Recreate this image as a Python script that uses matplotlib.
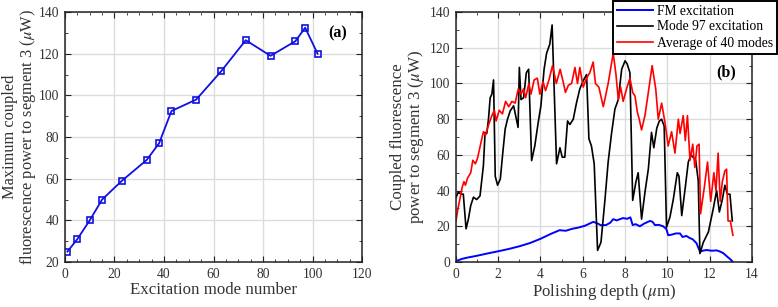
import matplotlib
matplotlib.use("Agg")
import matplotlib.pyplot as plt
from matplotlib.ticker import MultipleLocator

plt.rcParams["font.family"] = ["Liberation Serif", "DejaVu Serif"]
plt.rcParams["mathtext.fontset"] = "stix"

# (a) maximum coupled power vs excitation mode number
mode_number = [1, 5, 10, 15, 23, 33, 38, 43, 53, 63, 73, 83, 93, 97, 102]
max_power = [25, 31, 40, 50, 59, 69, 77, 92.5, 98, 111.5, 126.5, 119, 126, 132.5, 120]

# (b) coupled power vs polishing depth
fm_depth = [0.0, 0.3, 0.6, 1.0, 1.5, 2.0, 2.5, 3.0, 3.5, 4.0, 4.5, 4.9, 5.2, 5.5,
            5.8, 6.1, 6.5, 6.7, 6.85, 7.1, 7.3, 7.44, 7.6, 7.9, 8.1, 8.25, 8.36,
            8.5, 8.7, 8.9, 9.18, 9.3, 9.41, 9.6, 9.8, 9.95, 10.04, 10.2, 10.4,
            10.6, 10.72, 10.9, 11.05, 11.2, 11.38, 11.54, 11.7, 11.86, 12.1,
            12.33, 12.5, 12.65, 12.8, 12.95, 13.09]
fm_power = [0.5, 1.8, 2.6, 3.5, 4.8, 6.0, 7.3, 8.8, 10.6, 13.0, 15.8, 17.8, 17.5,
            18.6, 19.3, 20.3, 22.5, 21.6, 20.6, 20.7, 22.0, 24.0, 23.3, 24.6, 24.2,
            25.0, 20.7, 21.2, 20.0, 21.5, 23.0, 22.5, 20.7, 20.8, 20.0, 18.5, 15.0,
            15.3, 16.0, 16.0, 14.0, 14.6, 13.5, 12.7, 10.5, 5.8, 6.4, 6.7, 6.3,
            6.5, 5.8, 4.9, 3.3, 1.8, 0.2]

m97_depth = [0.0, 0.11, 0.27, 0.35, 0.48, 0.59, 0.7, 0.83, 0.98, 1.14, 1.3, 1.38,
             1.46, 1.54, 1.62, 1.7, 1.78, 1.86, 1.97, 2.1, 2.22, 2.33, 2.44, 2.57,
             2.73, 2.94, 3.0, 3.08, 3.2, 3.33, 3.44, 3.58, 3.73, 3.89, 4.02, 4.17,
             4.29, 4.44, 4.55, 4.76, 4.92, 5.03, 5.15, 5.28, 5.39, 5.55, 5.7, 5.86,
             6.02, 6.18, 6.29, 6.41, 6.54, 6.7, 6.86, 7.05, 7.2, 7.36, 7.52, 7.68,
             7.84, 8.0, 8.1, 8.23, 8.36, 8.51, 8.62, 8.78, 8.94, 9.1, 9.25, 9.36,
             9.5, 9.62, 9.73, 9.85, 9.96, 10.12, 10.28, 10.47, 10.55, 10.68, 10.85,
             10.99, 11.12, 11.34, 11.46, 11.54, 11.7, 11.94, 12.17, 12.33, 12.46,
             12.6, 12.72, 12.84, 12.96, 13.07]
m97_power = [36, 39, 38, 38, 18.6, 24, 31.6, 36.3, 35, 37, 54, 72.6, 72, 80, 92,
             94, 102, 48, 43, 46.5, 61.5, 74.5, 80, 84.7, 87.5, 75.4, 109, 91, 92,
             106, 108, 56.8, 65, 78, 87.5, 108, 117, 122, 132.8, 55, 64, 58.7, 58.7,
             79, 77, 80, 89, 97, 101.5, 105, 69, 65, 55, 6.5, 11, 35, 56, 72, 85.7,
             91, 108, 112.7, 111, 106, 34.5, 44.7, 50, 24, 39, 52, 72.6, 64, 75,
             79, 80, 76, 19.5, 25, 35, 50, 48, 26, 42, 56, 60, 57, 45.6, 4.7, 11,
             16.8, 29.8, 40, 28, 35, 43, 38, 38, 23]

avg_depth = [0.0, 0.1, 0.2, 0.3, 0.38, 0.45, 0.55, 0.7, 0.8, 0.92, 1.02, 1.15,
             1.3, 1.4, 1.55, 1.7, 1.82, 1.9, 2.05, 2.2, 2.35, 2.5, 2.65, 2.8, 2.95,
             3.08, 3.2, 3.3, 3.45, 3.55, 3.7, 3.85, 3.97, 4.12, 4.24, 4.4, 4.57,
             4.75, 4.93, 5.07, 5.18, 5.32, 5.47, 5.63, 5.75, 5.86, 6.02, 6.18, 6.33,
             6.49, 6.6, 6.76, 6.97, 7.2, 7.44, 7.57, 7.68, 7.79, 7.91, 8.07, 8.23,
             8.36, 8.47, 8.58, 8.67, 8.78, 8.94, 9.1, 9.28, 9.45, 9.57, 9.73, 9.89,
             10.04, 10.2, 10.36, 10.52, 10.6, 10.75, 10.85, 10.95, 11.07, 11.2, 11.3,
             11.4, 11.5, 11.57, 11.75, 11.9, 12.05, 12.2, 12.3, 12.4, 12.5, 12.6,
             12.72, 12.8, 12.87, 12.98, 13.1]
avg_power = [23, 30, 36, 42, 45, 43, 47, 50, 57, 55, 58, 65, 73, 71, 77, 82, 85,
             79, 85, 83, 90, 87, 90, 89, 97, 94, 97, 92, 100, 94, 102, 103, 94, 101,
             96, 102, 110, 100, 108, 101, 95, 99, 100, 109, 100, 109, 98, 103, 106,
             112, 100, 98, 87, 100, 117, 105, 91, 98, 90, 97, 103, 95, 93, 84, 80,
             74, 82, 95, 110, 97, 80, 89, 78, 65, 73, 61, 80, 72, 82, 68, 82, 57, 66,
             53, 65, 66, 27, 42, 56, 34, 50, 40, 61, 34, 45, 51, 52, 23, 23, 15]

TICK_SIZE = 9.8
LABEL_SIZE = 12.2


def style_axes(ax):
    ax.grid(True, color="#dcdcdc", linewidth=1.0)
    ax.set_axisbelow(True)
    ax.tick_params(which="both", direction="in", top=True, right=True,
                   labelsize=TICK_SIZE, colors="#222222", labelcolor="#333333")
    ax.tick_params(which="major", length=4, pad=4)
    ax.tick_params(which="minor", length=2.5)
    for s in ax.spines.values():
        s.set_linewidth(1.1)
        s.set_color("#222222")


fig = plt.figure(figsize=(7.78, 3.07), dpi=100)
ax_a = fig.add_axes([0.0835, 0.1466, 0.382, 0.814])
ax_b = fig.add_axes([0.586, 0.1466, 0.3805, 0.814])

# panel (a)
ax_a.plot(mode_number, max_power, color="#1010e0", linewidth=1.3, marker="s",
          markersize=4.6, markerfacecolor="none", markeredgewidth=1.2)
ax_a.set_xlim(0, 120)
ax_a.set_ylim(20, 140)
ax_a.xaxis.set_major_locator(MultipleLocator(20))
ax_a.xaxis.set_minor_locator(MultipleLocator(5))
ax_a.yaxis.set_major_locator(MultipleLocator(20))
ax_a.yaxis.set_minor_locator(MultipleLocator(10))
ax_a.set_xlabel("Excitation mode number", fontsize=LABEL_SIZE, color="#333333", labelpad=1)
ax_a.set_ylabel("Maximum coupled\nfluorescence power to segment 3 ($\\mu$W)",
                fontsize=LABEL_SIZE - 0.4, color="#333333", labelpad=1, linespacing=0.95)
ax_a.text(110, 130, "(a)", fontsize=11.5, fontweight="bold", ha="center", va="center")
style_axes(ax_a)

# panel (b)
ax_b.plot(fm_depth, fm_power, color="#0000ff", linewidth=1.4, label="FM excitation")
ax_b.plot(m97_depth, m97_power, color="black", linewidth=1.2, label="Mode 97 excitation")
ax_b.plot(avg_depth, avg_power, color="#ff0000", linewidth=1.2, label="Average of 40 modes")
ax_b.set_xlim(0, 14)
ax_b.set_ylim(0, 140)
ax_b.xaxis.set_major_locator(MultipleLocator(2))
ax_b.xaxis.set_minor_locator(MultipleLocator(1))
ax_b.yaxis.set_major_locator(MultipleLocator(20))
ax_b.yaxis.set_minor_locator(MultipleLocator(10))
ax_b.set_xlabel("Polishing depth ($\\mu$m)", fontsize=LABEL_SIZE, color="#333333", labelpad=1)
ax_b.set_ylabel("Coupled fluorescence\npower to segment 3 ($\\mu$W)",
                fontsize=LABEL_SIZE, color="#333333", labelpad=3, linespacing=0.95)
ax_b.text(12.8, 106, "(b)", fontsize=11.5, fontweight="bold", ha="center", va="center")
style_axes(ax_b)

leg = ax_b.legend(loc="upper right", bbox_to_anchor=(1.085, 1.045), fontsize=TICK_SIZE,
                  fancybox=False, framealpha=1, edgecolor="black", handlelength=2.6,
                  handletextpad=0.3, borderpad=0.3, labelspacing=0.18,
                  borderaxespad=0)
leg.get_frame().set_linewidth(1.4)

fig.savefig("out.png", dpi=100)
